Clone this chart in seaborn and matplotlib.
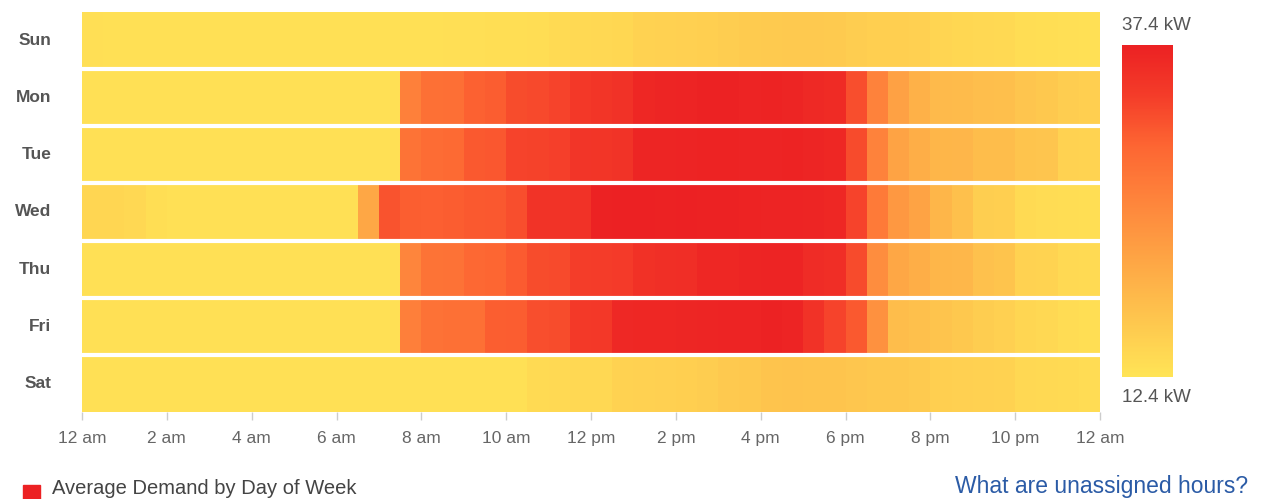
import numpy as np
import pandas as pd
import seaborn as sns
import matplotlib.pyplot as plt
from matplotlib.colors import LinearSegmentedColormap
from matplotlib.patches import Rectangle

# average demand (kW), one value per half hour, 12 am -> 12 am
days = ["Sun", "Mon", "Tue", "Wed", "Thu", "Fri", "Sat"]
hour_labels = ["12 am", "2 am", "4 am", "6 am", "8 am", "10 am", "12 pm",
               "2 pm", "4 pm", "6 pm", "8 pm", "10 pm", "12 am"]

sun = [13.1, 13.0, 13.0, 13.0, 13.0, 13.0, 13.0, 13.0, 13.0, 13.0, 13.0, 13.0,
       13.0, 13.0, 13.0, 13.0, 13.0, 13.1, 13.1, 13.2, 13.3, 13.4, 13.8, 14.0,
       14.1, 14.3, 15.0, 15.2, 15.3, 15.5, 15.7, 16.0, 16.2, 16.3, 16.3, 16.2,
       15.7, 15.5, 15.4, 15.3, 14.6, 14.3, 14.2, 14.0, 13.4, 13.2, 13.1, 13.0]
mon = [13.0, 13.0, 13.0, 13.0, 13.0, 13.0, 13.0, 13.0, 13.0, 13.0, 13.0, 13.0,
       13.0, 13.0, 13.0, 26.2, 28.4, 28.6, 30.2, 30.6, 32.2, 32.5, 33.0, 34.2,
       34.6, 35.0, 36.6, 36.8, 37.0, 37.2, 37.2, 37.0, 37.1, 36.9, 36.3, 36.0,
       32.0, 26.0, 21.7, 19.6, 18.4, 18.2, 17.8, 17.6, 16.8, 16.5, 15.8, 15.5]
tue = [13.0, 13.0, 13.0, 13.0, 13.0, 13.0, 13.0, 13.0, 13.0, 13.0, 13.0, 13.0,
       13.0, 13.0, 13.0, 28.0, 29.0, 29.2, 31.0, 31.2, 33.0, 33.1, 33.3, 34.5,
       34.6, 34.8, 36.8, 36.9, 37.0, 37.1, 37.1, 37.0, 37.0, 37.1, 36.8, 36.5,
       32.3, 26.0, 21.5, 20.0, 19.0, 18.9, 18.0, 17.9, 17.0, 16.8, 15.0, 14.8]
wed = [14.5, 14.4, 14.2, 13.2, 13.0, 13.0, 13.0, 13.0, 13.0, 13.0, 13.0, 13.0,
       13.0, 21.0, 31.5, 30.5, 30.4, 30.6, 31.0, 31.1, 32.0, 34.8, 34.9, 35.0,
       37.3, 37.4, 37.4, 37.3, 37.4, 37.3, 37.2, 37.1, 37.0, 37.0, 36.9, 36.5,
       33.0, 27.0, 23.0, 21.5, 19.0, 17.5, 15.6, 15.4, 13.8, 13.6, 13.4, 13.3]
thu = [13.0, 13.0, 13.0, 13.0, 13.0, 13.0, 13.0, 13.0, 13.0, 13.0, 13.0, 13.0,
       13.0, 13.0, 13.0, 25.5, 28.0, 28.2, 29.5, 29.7, 30.8, 32.2, 32.4, 33.5,
       33.6, 33.8, 35.2, 35.4, 35.6, 36.5, 36.6, 36.8, 37.0, 37.0, 35.8, 35.6,
       32.3, 24.5, 21.0, 20.0, 19.0, 18.8, 17.3, 17.0, 15.0, 14.8, 14.0, 13.8]
fri = [13.0, 13.0, 13.0, 13.0, 13.0, 13.0, 13.0, 13.0, 13.0, 13.0, 13.0, 13.0,
       13.0, 13.0, 13.0, 26.3, 28.2, 28.4, 28.5, 30.5, 30.6, 32.0, 32.2, 34.0,
       34.2, 36.4, 36.5, 36.6, 36.7, 36.8, 37.0, 37.0, 37.3, 37.0, 35.0, 33.0,
       31.0, 24.0, 18.0, 17.5, 17.0, 16.5, 15.8, 15.3, 14.5, 14.2, 13.5, 13.2]
sat = [13.0, 13.0, 13.0, 13.0, 13.0, 13.0, 13.0, 13.0, 13.0, 13.0, 13.0, 13.0,
       13.0, 13.0, 13.0, 13.0, 13.0, 13.0, 13.0, 13.0, 13.0, 13.8, 14.0, 14.1,
       14.2, 15.0, 15.2, 15.3, 15.5, 15.8, 16.3, 16.5, 17.0, 17.1, 17.0, 17.0,
       16.6, 16.5, 16.4, 16.2, 15.5, 15.3, 15.2, 15.0, 14.2, 14.0, 13.8, 13.6]

vmin, vmax = 12.4, 37.4

df = pd.DataFrame([sun, mon, tue, wed, thu, fri, sat], index=days)

sns.set_style("white")
plt.rcParams['font.family'] = ['Liberation Sans', 'DejaVu Sans']

W, H = 1269, 499
fig = plt.figure(figsize=(W / 100, H / 100), dpi=100)
ax = fig.add_axes([82 / W, 1 - 412 / H, 1018 / W, 400 / H])
cax = fig.add_axes([1122 / W, 1 - 377 / H, 51 / W, 332 / H])

cmap = LinearSegmentedColormap.from_list(
    "demand", [(0, "#FFE456"), (0.25, "#FEB84A"), (0.5, "#FE8A3D"),
               (0.7, "#FD6532"), (0.85, "#F43C29"), (1, "#EC2123")])

sns.heatmap(df, ax=ax, cbar_ax=cax, cmap=cmap, vmin=vmin, vmax=vmax,
            xticklabels=False, yticklabels=days)

# white gaps between the day rows
for y in range(1, len(days)):
    ax.axhline(y, color="white", lw=3)

ax.set_xticks(np.arange(0, 49, 4))
ax.set_xticklabels(hour_labels, fontsize=12.5, color="#666666")
ax.tick_params(axis="x", bottom=True, length=6, width=1, color="#cccccc", pad=8)
ax.set_yticklabels(days, rotation=0, fontsize=12.5, fontweight="bold", color="#555555")
ax.tick_params(axis="y", length=0, pad=22)
ax.set_xlabel("")
ax.set_ylabel("")

cbar = ax.collections[0].colorbar
cbar.outline.set_visible(False)
cbar.set_ticks([])

fig.text(1156 / W, 1 - 26 / H, f"{vmax} kW", ha="center", va="center",
         fontsize=13.5, color="#555555")
fig.text(1156 / W, 1 - 397 / H, f"{vmin} kW", ha="center", va="center",
         fontsize=13.5, color="#555555")

# legend + link
fig.add_artist(Rectangle((23 / W, 1 - 502 / H), 17 / W, 17 / H,
                         color="#EC2123", transform=fig.transFigure))
fig.text(52 / W, 1 - 488 / H, "Average Demand by Day of Week", ha="left",
         va="center", fontsize=14.5, color="#444444")
fig.text(1248 / W, 1 - 486 / H, "What are unassigned hours?", ha="right",
         va="center", fontsize=16.5, color="#2B5BA6")

fig.savefig("out.png", dpi=100)
